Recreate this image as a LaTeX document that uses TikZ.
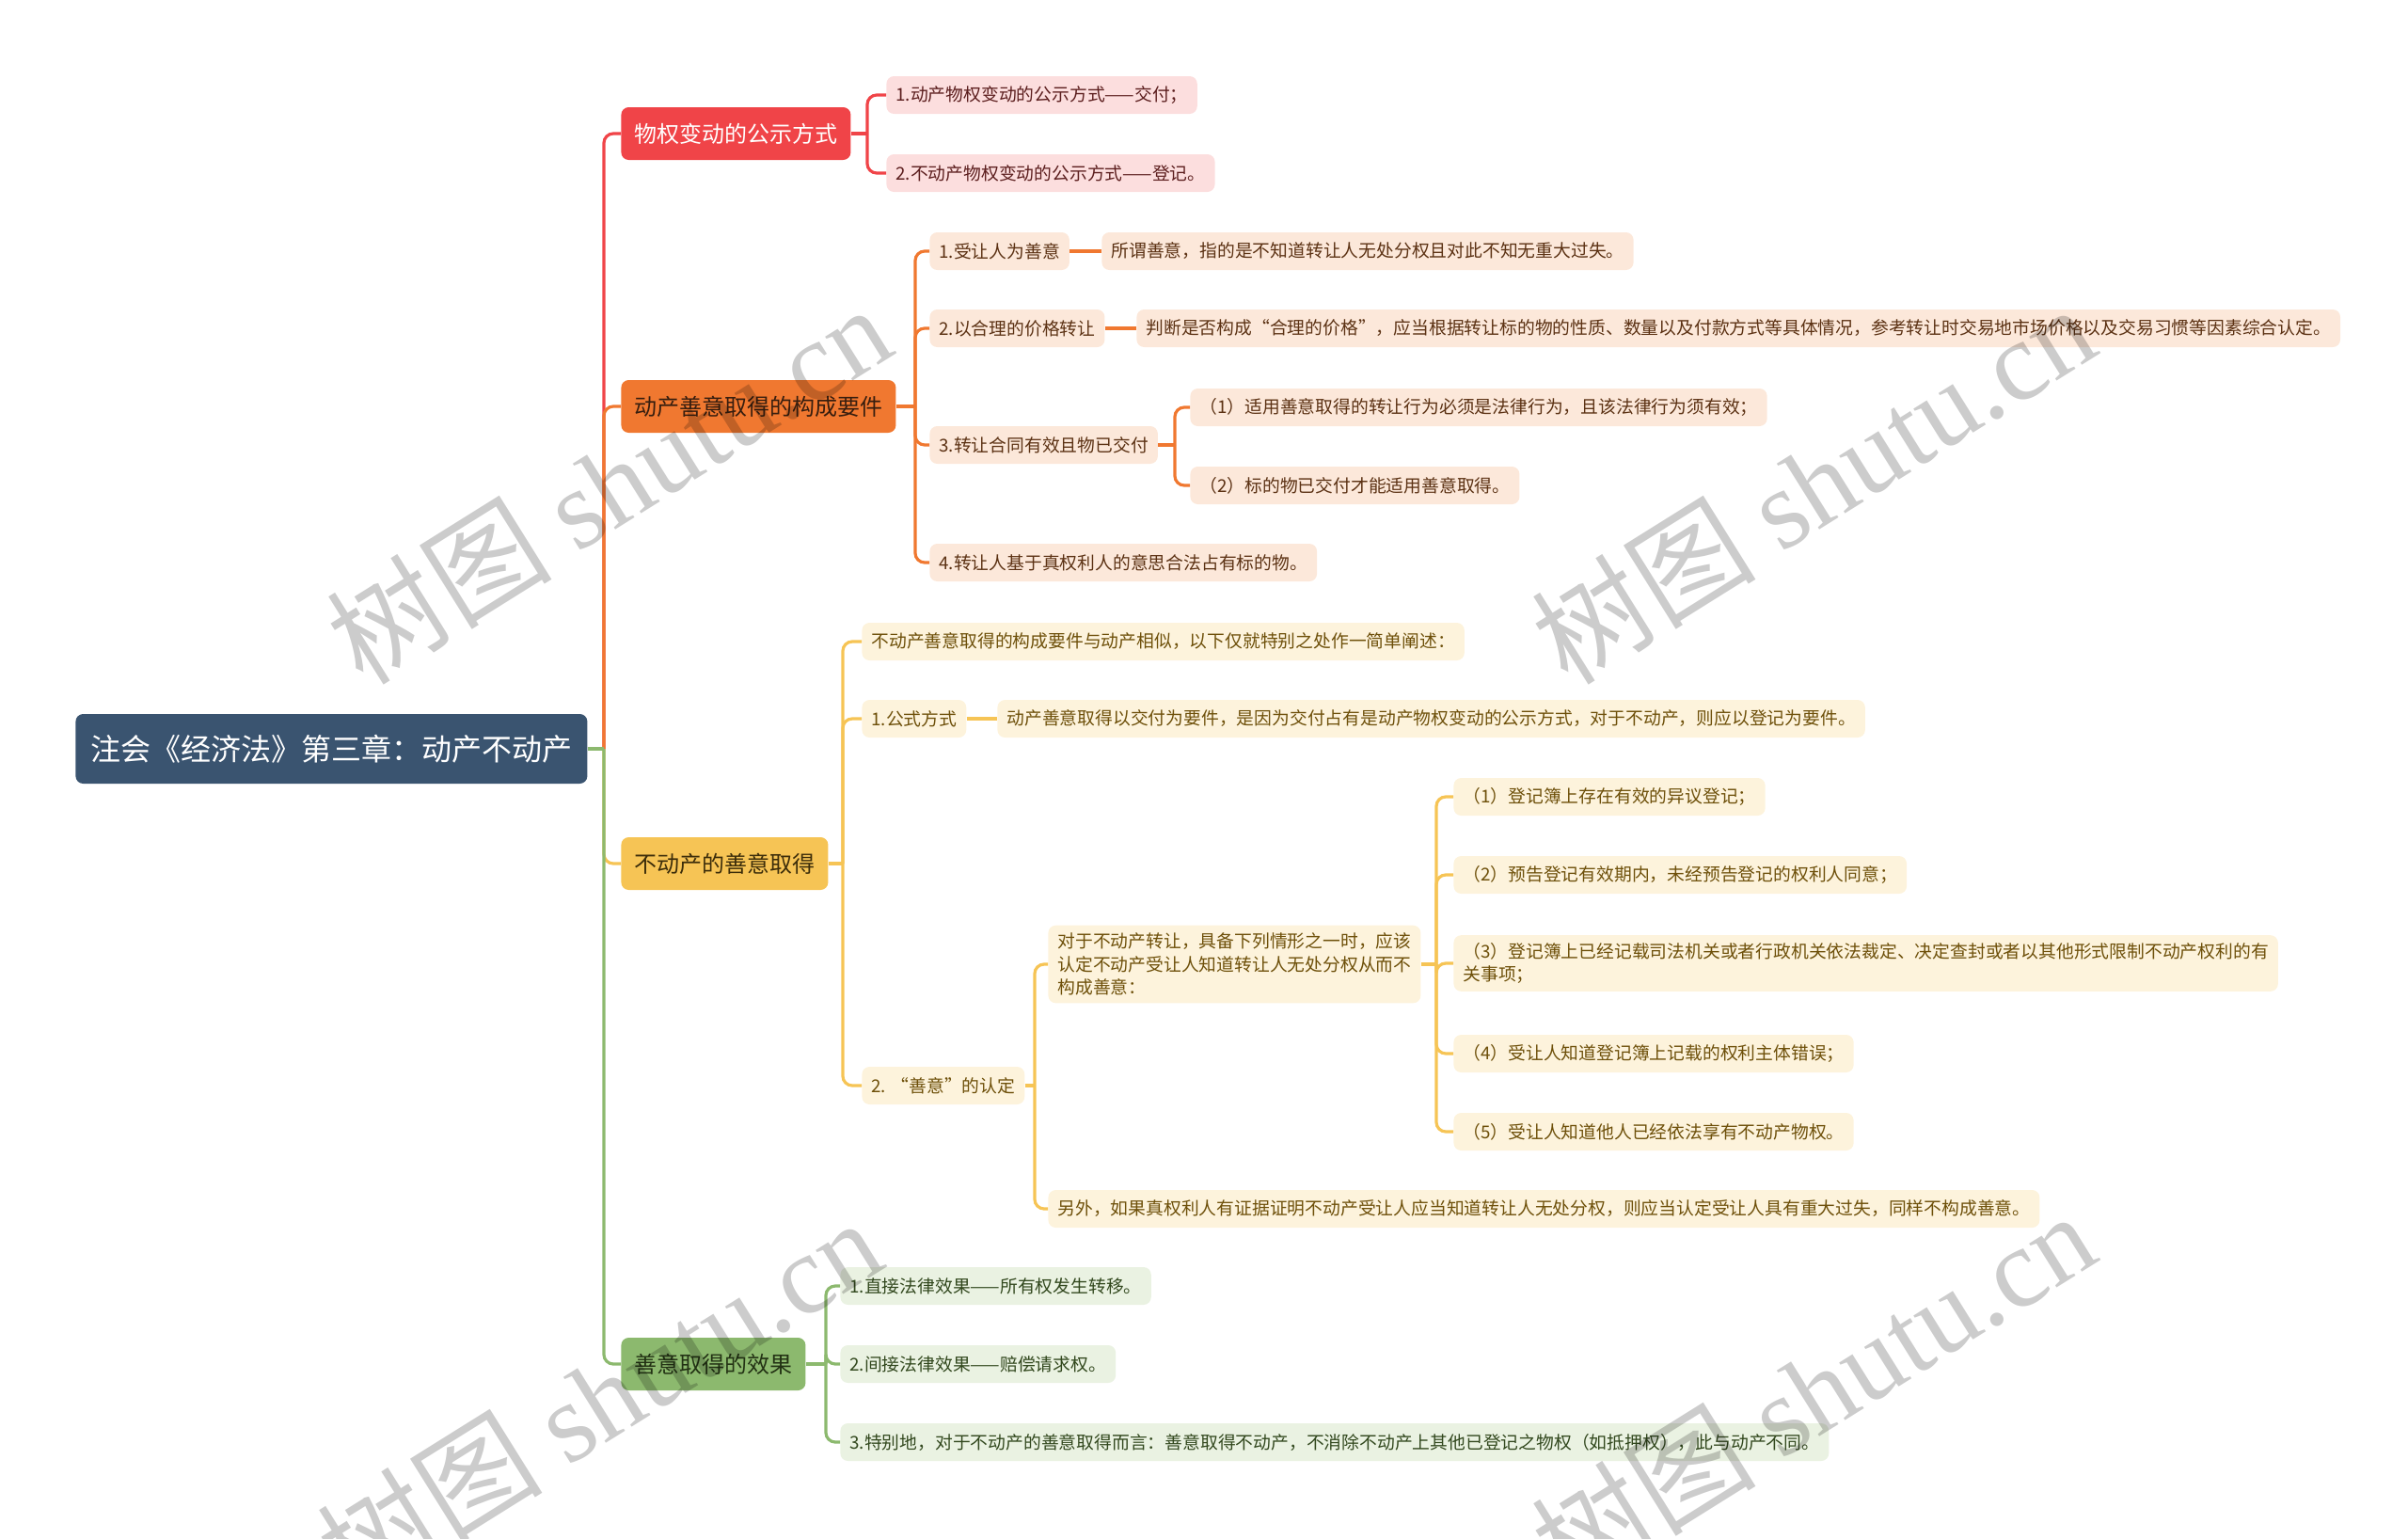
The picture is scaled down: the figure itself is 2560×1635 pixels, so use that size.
\documentclass[tikz,border=0pt]{standalone}
\usepackage{fontspec}
\setmainfont{Noto Sans CJK SC}
\newfontfamily\wmlatin{Liberation Serif}
\usetikzlibrary{calc}
\definecolor{rootc}{RGB}{58,84,112}
\definecolor{redc}{RGB}{240,68,72}
\definecolor{redl}{RGB}{252,222,222}
\definecolor{redt}{RGB}{92,30,30}
\definecolor{orgc}{RGB}{240,120,48}
\definecolor{orgl}{RGB}{252,232,218}
\definecolor{orgt}{RGB}{92,50,20}
\definecolor{orgtop}{RGB}{55,30,15}
\definecolor{yelc}{RGB}{246,196,85}
\definecolor{yell}{RGB}{253,243,220}
\definecolor{yelt}{RGB}{110,80,10}
\definecolor{yeltop}{RGB}{60,45,10}
\definecolor{grnc}{RGB}{140,185,110}
\definecolor{grnl}{RGB}{234,242,226}
\definecolor{grnt}{RGB}{50,72,30}
\definecolor{grntop}{RGB}{35,50,20}
\begin{document}
\begin{tikzpicture}[x=0.5pt,y=-0.5pt,
  rootbox/.style={fill=rootc,text=white,rounded corners=4pt,anchor=west,inner xsep=8pt,inner ysep=2pt,minimum height=37pt,font=\fontsize{16pt}{20pt}\selectfont},
  lone/.style={rounded corners=4pt,anchor=west,inner xsep=7pt,inner ysep=2pt,minimum height=28pt,font=\fontsize{12pt}{14pt}\selectfont},
  leaf/.style={rounded corners=4pt,anchor=west,inner xsep=5pt,inner ysep=4pt,minimum height=20pt,align=left,font=\fontsize{9.4pt}{12.25pt}\selectfont},
  rone/.style={lone,fill=redc,text=white},
  oone/.style={lone,fill=orgc,text=orgtop},
  yone/.style={lone,fill=yelc,text=yeltop},
  gone/.style={lone,fill=grnc,text=grntop},
  rleaf/.style={leaf,fill=redl,text=redt},
  oleaf/.style={leaf,fill=orgl,text=orgt},
  yleaf/.style={leaf,fill=yell,text=yelt},
  gleaf/.style={leaf,fill=grnl,text=grnt},
  rline/.style={draw=redc,line width=1.6pt},
  oline/.style={draw=orgc,line width=1.6pt},
  yline/.style={draw=yelc,line width=1.6pt},
  gline/.style={draw=grnc,line width=1.6pt},
  rc/.style={rounded corners=5pt},
  wm/.style={text=black,text opacity=0.2,rotate=32,font=\fontsize{60pt}{60pt}\selectfont}
]
\useasboundingbox (0,0) rectangle (2560,1635);

% root
\node[rootbox] (root) at (80,796) {注会《经济法》第三章：动产不动产};

% level 1
\node[rone] (r1) at (660,142) {物权变动的公示方式};
\node[oone] (o1) at (660,432) {动产善意取得的构成要件};
\node[yone] (y1) at (660,918) {不动产的善意取得};
\node[gone] (g1) at (660,1450) {善意取得的效果};

% red leaves
\node[rleaf] (r11) at (942,101) {1.动产物权变动的公示方式——交付；};
\node[rleaf] (r12) at (942,184) {2.不动产物权变动的公示方式——登记。};

% orange leaves
\node[oleaf] (o11) at (988,267) {1.受让人为善意};
\node[oleaf] (o111) at (1171,267) {所谓善意，指的是不知道转让人无处分权且对此不知无重大过失。};
\node[oleaf] (o12) at (988,349) {2.以合理的价格转让};
\node[oleaf] (o121) at (1208,349) {判断是否构成“合理的价格”，应当根据转让标的物的性质、数量以及付款方式等具体情况，参考转让时交易地市场价格以及交易习惯等因素综合认定。};
\node[oleaf] (o13) at (988,473) {3.转让合同有效且物已交付};
\node[oleaf] (o131) at (1265,433) {（1）适用善意取得的转让行为必须是法律行为，且该法律行为须有效；};
\node[oleaf] (o132) at (1265,516) {（2）标的物已交付才能适用善意取得。};
\node[oleaf] (o14) at (988,598) {4.转让人基于真权利人的意思合法占有标的物。};

% yellow leaves
\node[yleaf] (y11) at (916,682) {不动产善意取得的构成要件与动产相似，以下仅就特别之处作一简单阐述：};
\node[yleaf] (y12) at (916,764) {1.公式方式};
\node[yleaf] (y121) at (1060,764) {动产善意取得以交付为要件，是因为交付占有是动产物权变动的公示方式，对于不动产，则应以登记为要件。};
\node[yleaf] (y13) at (916,1154) {2. “善意”的认定};
\node[yleaf] (y131) at (1114,1025) {对于不动产转让，具备下列情形之一时，应该\\认定不动产受让人知道转让人无处分权从而不\\构成善意：};
\node[yleaf] (y1311) at (1545,847) {（1）登记簿上存在有效的异议登记；};
\node[yleaf] (y1312) at (1545,930) {（2）预告登记有效期内，未经预告登记的权利人同意；};
\node[yleaf] (y1313) at (1545,1024) {（3）登记簿上已经记载司法机关或者行政机关依法裁定、决定查封或者以其他形式限制不动产权利的有\\关事项；};
\node[yleaf] (y1314) at (1545,1120) {（4）受让人知道登记簿上记载的权利主体错误；};
\node[yleaf] (y1315) at (1545,1203) {（5）受让人知道他人已经依法享有不动产物权。};
\node[yleaf] (y132) at (1114,1285) {另外，如果真权利人有证据证明不动产受让人应当知道转让人无处分权，则应当认定受让人具有重大过失，同样不构成善意。};

% green leaves
\node[gleaf] (g11) at (893,1367) {1.直接法律效果——所有权发生转移。};
\node[gleaf] (g12) at (893,1450) {2.间接法律效果——赔偿请求权。};
\node[gleaf] (g13) at (893,1533) {3.特别地，对于不动产的善意取得而言：善意取得不动产，不消除不动产上其他已登记之物权（如抵押权），此与动产不同。};

% junctions
\coordinate (jroot) at (642,796);
\coordinate (jr) at (922,142);
\coordinate (jo) at (973,432);
\coordinate (jo13) at (1249,473);
\coordinate (jy) at (896,918);
\coordinate (jy13) at (1100,1154);
\coordinate (jy131) at (1527,1025);
\coordinate (jg) at (878,1450);

% root connectors
\draw[rline] (root.east) -- (jroot);
\draw[rline,rc] (jroot) |- (r1.west);
\draw[oline] (root.east) -- (jroot);
\draw[oline,rc] (jroot) |- (o1.west);
\draw[yline] (root.east) -- (jroot);
\draw[yline,rc] (jroot) |- (y1.west);
\draw[gline] (root.east) -- (jroot);
\draw[gline,rc] (jroot) |- (g1.west);

% red
\draw[rline] (r1.east) -- (jr);
\draw[rline,rc] (jr) |- (r11.west);
\draw[rline,rc] (jr) |- (r12.west);

% orange
\draw[oline] (o1.east) -- (jo);
\draw[oline,rc] (jo) |- (o11.west);
\draw[oline,rc] (jo) |- (o12.west);
\draw[oline,rc] (jo) |- (o13.west);
\draw[oline,rc] (jo) |- (o14.west);
\draw[oline] (o11.east) -- (o111.west);
\draw[oline] (o12.east) -- (o121.west);
\draw[oline] (o13.east) -- (jo13);
\draw[oline,rc] (jo13) |- (o131.west);
\draw[oline,rc] (jo13) |- (o132.west);

% yellow
\draw[yline] (y1.east) -- (jy);
\draw[yline,rc] (jy) |- (y11.west);
\draw[yline,rc] (jy) |- (y12.west);
\draw[yline,rc] (jy) |- (y13.west);
\draw[yline] (y12.east) -- (y121.west);
\draw[yline] (y13.east) -- (jy13);
\draw[yline,rc] (jy13) |- (y131.west);
\draw[yline,rc] (jy13) |- (y132.west);
\draw[yline] (y131.east) -- (jy131);
\draw[yline,rc] (jy131) |- (y1311.west);
\draw[yline,rc] (jy131) |- (y1312.west);
\draw[yline,rc] (jy131) |- (y1313.west);
\draw[yline,rc] (jy131) |- (y1314.west);
\draw[yline,rc] (jy131) |- (y1315.west);

% green
\draw[gline] (g1.east) -- (jg);
\draw[gline,rc] (jg) |- (g11.west);
\draw[gline,rc] (jg) |- (g12.west);
\draw[gline,rc] (jg) |- (g13.west);

% watermarks
\node[wm] (wm1) at (647,514) {树图 {\wmlatin shutu.cn}};
\node[wm] (wm2) at (1927,514) {树图 {\wmlatin shutu.cn}};
\node[wm] (wm3) at (637,1485) {树图 {\wmlatin shutu.cn}};
\node[wm] (wm4) at (1927,1478) {树图 {\wmlatin shutu.cn}};
\end{tikzpicture}
\end{document}
